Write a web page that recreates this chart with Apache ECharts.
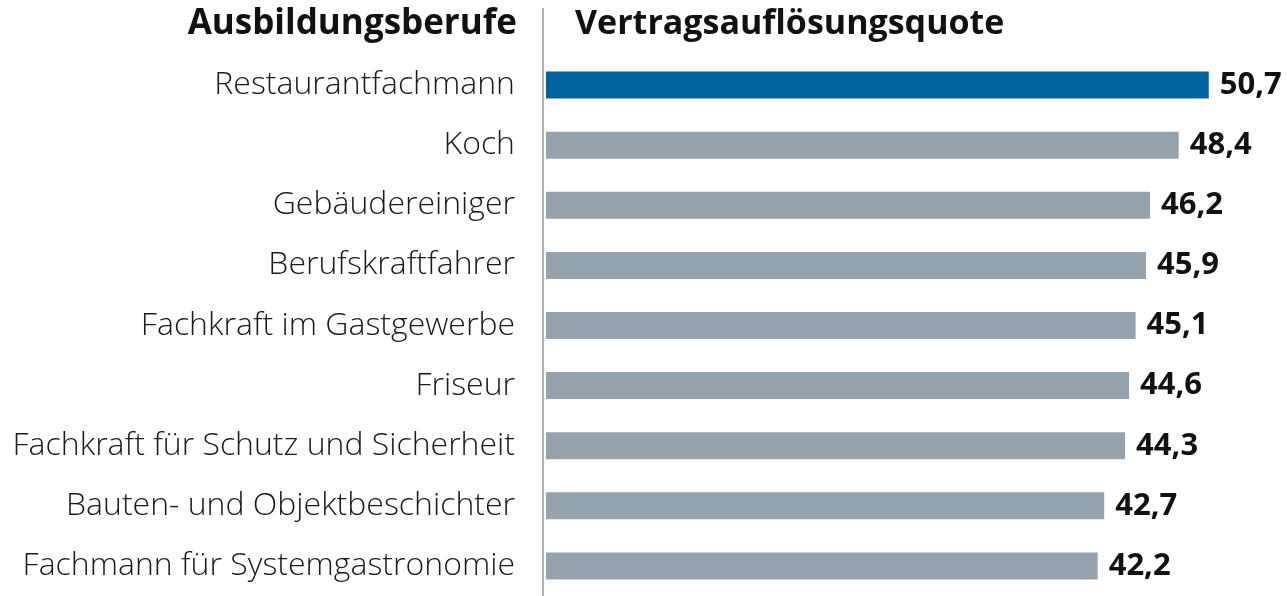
<!DOCTYPE html>
<html>
<head>
<meta charset="utf-8">
<script src="https://cdn.jsdelivr.net/npm/echarts@6/dist/echarts.min.js"></script>
<style>
  html, body { margin: 0; padding: 0; background: #fff; }
  #chart { width: 1287px; height: 596px; }
</style>
</head>
<body>
<div id="chart"></div>
<script>
const categories = [
  'Restaurantfachmann',
  'Koch',
  'Gebäudereiniger',
  'Berufskraftfahrer',
  'Fachkraft im Gastgewerbe',
  'Friseur',
  'Fachkraft für Schutz und Sicherheit',
  'Bauten- und Objektbeschichter',
  'Fachmann für Systemgastronomie'
];
const values = [50.7, 48.4, 46.2, 45.9, 45.1, 44.6, 44.3, 42.7, 42.2];
const highlighted = [true, false, false, false, false, false, false, false, false];
const headerLeft = 'Ausbildungsberufe';
const headerRight = 'Vertragsauflösungsquote';

const BLUE = '#00629f';
const GRAY = '#95a3ae';
const FONT = '"Open Sans", "Noto Sans", sans-serif';

const chart = echarts.init(document.getElementById('chart'), null, { renderer: 'canvas' });

chart.setOption({
  backgroundColor: '#ffffff',
  animation: false,
  grid: { left: 546, right: 22, top: 55, height: 545, containLabel: false },
  xAxis: {
    type: 'value', min: 0, max: 55,
    show: false
  },
  yAxis: {
    type: 'category',
    data: categories,
    inverse: true,
    axisLine: { show: false },
    axisTick: { show: false },
    splitLine: { show: false },
    axisLabel: {
      margin: 31,
      fontSize: 32,
      fontFamily: FONT,
      fontWeight: 300,
      color: '#1a1a1a',
      padding: [0, 0, 4, 0]
    }
  },
  series: [{
    type: 'bar',
    barWidth: 27,
    data: values.map((v, i) => ({
      value: v,
      itemStyle: { color: highlighted[i] ? BLUE : GRAY }
    })),
    label: {
      show: true,
      position: 'right',
      distance: 11,
      fontSize: 31,
      fontWeight: 'bold',
      fontFamily: FONT,
      color: '#111',
      formatter: p => String(p.value).replace('.', ',')
    }
  }],
  graphic: [
    {
      type: 'line',
      shape: { x1: 543, y1: 8, x2: 543, y2: 596 },
      style: { stroke: '#9a9a9a', lineWidth: 1.5 }
    },
    {
      type: 'text',
      x: 517, y: 24,
      style: {
        text: headerLeft,
        textAlign: 'right', textVerticalAlign: 'middle',
        font: 'bold 35px ' + FONT,
        fill: '#111'
      }
    },
    {
      type: 'text',
      x: 575, y: 24,
      style: {
        text: headerRight,
        textAlign: 'left', textVerticalAlign: 'middle',
        font: 'bold 34px ' + FONT,
        fill: '#111'
      }
    }
  ]
});
</script>
</body>
</html>
